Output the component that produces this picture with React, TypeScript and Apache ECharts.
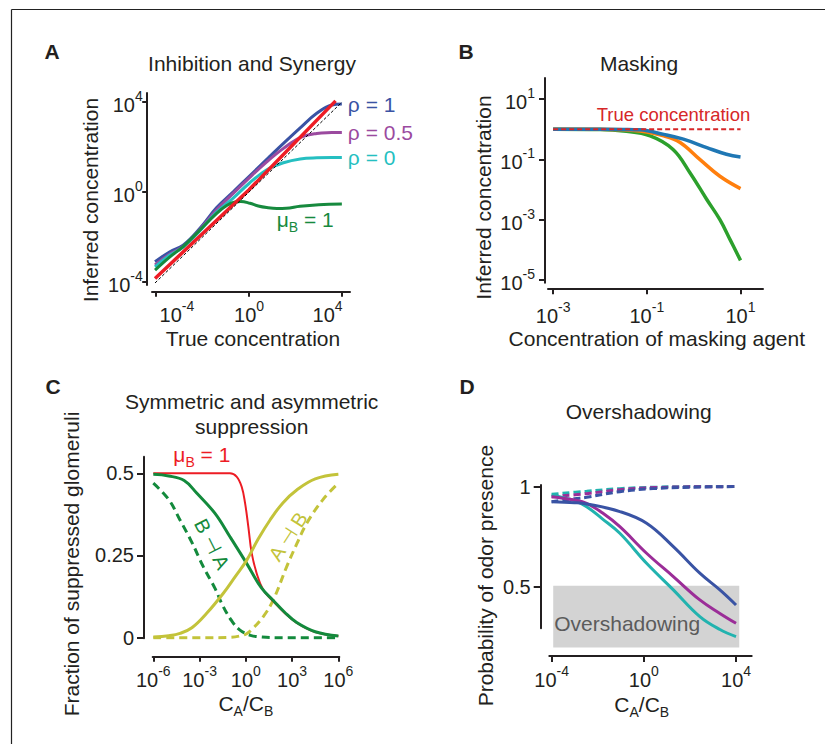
import React, { useEffect, useRef } from 'react';
import * as echarts from 'echarts';

const FONT = '"Liberation Sans", Arial, Helvetica, sans-serif';
const INK = '#231f20';

// ---------------- Panel A: Inhibition and Synergy (log10 values) ----------------
const A_X_TICKS = [-4, 0, 4];
const A_Y_TICKS = [-4, 0, 4];
const A_RHO_1: [number, number][] = [
  [-4.04, -3.1], [-3.4, -2.65], [-2.83, -2.36], [-2.11, -1.61], [-1.4, -0.7], [-0.68, 0.01],
  [0, 0.69], [0.75, 1.44], [1.48, 2.16], [2.2, 2.85], [2.91, 3.5], [3.56, 3.87], [3.99, 3.91],
];
const A_RHO_05: [number, number][] = [
  [-4.04, -3.24], [-3.4, -2.75], [-2.83, -2.42], [-2.11, -1.66], [-1.4, -0.8], [-0.68, -0.06],
  [0, 0.62], [0.75, 1.33], [1.48, 1.94], [2.2, 2.42], [2.91, 2.6], [3.56, 2.64], [3.99, 2.65],
];
const A_RHO_0: [number, number][] = [
  [-4.04, -3.32], [-3.4, -2.8], [-2.83, -2.45], [-2.11, -1.72], [-1.4, -0.9], [-0.68, -0.27],
  [0, 0.38], [0.75, 0.98], [1.48, 1.3], [2.2, 1.47], [2.91, 1.52], [3.56, 1.53], [3.99, 1.53],
];
const A_MU_B1: [number, number][] = [
  [-4.04, -3.47], [-3.4, -2.88], [-2.83, -2.42], [-2.11, -1.69], [-1.39, -0.95], [-0.96, -0.6],
  [-0.6, -0.44], [-0.35, -0.42], [0.04, -0.5], [0.4, -0.62], [0.76, -0.69], [1.2, -0.73],
  [1.6, -0.72], [2.19, -0.63], [3.0, -0.56], [3.99, -0.53],
];
const A_NO_INTERACTION: [number, number][] = [[-4.04, -3.84], [0, 0.1], [3.72, 4.05]];
const A_IDENTITY: [number, number][] = [[-4.04, -4.04], [4, 4]];

// ---------------- Panel B: Masking (log10 values) ----------------
const B_X_TICKS = [-3, -1, 1];
const B_Y_TICKS = [-5, -3, -1, 1];
const B_WEAK: [number, number][] = [
  [-3, 0], [-2, 0], [-1.5, -0.005], [-1.15, -0.02], [-0.64, -0.17], [-0.22, -0.33],
  [0.28, -0.61], [0.7, -0.83], [1, -0.92],
];
const B_MEDIUM: [number, number][] = [
  [-3, 0], [-2, 0], [-1.5, -0.02], [-1.15, -0.06], [-0.64, -0.22], [-0.29, -0.44],
  [0.13, -1.0], [0.56, -1.56], [1, -1.97],
];
const B_STRONG: [number, number][] = [
  [-3, 0], [-2, -0.01], [-1.5, -0.06], [-0.93, -0.22], [-0.44, -0.67], [-0.08, -1.44],
  [0.28, -2.33], [0.56, -3.0], [0.78, -3.67], [1, -4.35],
];
const B_TRUE: [number, number][] = [[-3, 0], [1, 0]];

// ---------------- Panel C: Symmetric and asymmetric suppression ----------------
const C_X_TICKS = [-6, -3, 0, 3, 6];
const C_Y_TICKS = [0, 0.25, 0.5];
const C_MU_B1: [number, number][] = [
  [-6, 0.5], [-2, 0.5], [-1.03, 0.5], [-0.6, 0.49], [-0.27, 0.459], [-0.05, 0.409], [0.16, 0.338],
  [0.38, 0.257], [0.7, 0.196], [1.13, 0.145], [1.78, 0.11], [2.5, 0.076], [3.3, 0.045],
  [4.5, 0.017], [6, 0.005],
];
const C_BA_SOLID: [number, number][] = [
  [-6, 0.497], [-5, 0.492], [-4, 0.478], [-3.19, 0.44], [-2, 0.378], [-1.03, 0.307], [0.05, 0.226],
  [1, 0.152], [1.78, 0.113], [2.5, 0.078], [3.3, 0.046], [4.5, 0.018], [6, 0.005],
];
const C_BA_DASHED: [number, number][] = [
  [-6, 0.47], [-5, 0.42], [-4.27, 0.358], [-3.5, 0.29], [-2.76, 0.216], [-2, 0.15], [-1.46, 0.094],
  [-0.9, 0.05], [-0.38, 0.023], [0.3, 0.007], [1, 0.002], [2, 0], [6, 0],
];
const C_AB_SOLID: [number, number][] = [
  [-6, 0.002], [-5, 0.006], [-4.27, 0.013], [-3.5, 0.03], [-2.54, 0.074], [-1.46, 0.135],
  [-0.7, 0.185], [0.05, 0.235], [0.8, 0.3], [1.57, 0.358], [2.4, 0.41], [3.3, 0.449],
  [4.5, 0.483], [6, 0.497],
];
const C_AB_DASHED: [number, number][] = [
  [-6, 0], [-2, 0], [-1, 0.001], [-0.4, 0.005], [0.05, 0.012], [0.5, 0.03], [1.13, 0.064],
  [1.78, 0.115], [2.65, 0.216], [3.3, 0.285], [3.95, 0.348], [5, 0.42], [6, 0.47],
];

// ---------------- Panel D: Overshadowing ----------------
const D_X_TICKS = [-4, 0, 4];
const D_Y_TICKS = [0.5, 1];
const D_BLUE: [number, number][] = [
  [-4, 0.925], [-3, 0.92], [-2.48, 0.914], [-1.04, 0.876], [0.12, 0.818], [1.28, 0.702],
  [2.43, 0.57], [3.3, 0.487], [4, 0.412],
];
const D_PURPLE: [number, number][] = [
  [-4, 0.95], [-3, 0.933], [-2.48, 0.917], [-1.8, 0.87], [-1.04, 0.801], [0.12, 0.669],
  [1.28, 0.553], [2.43, 0.437], [3.3, 0.37], [4, 0.321],
];
const D_CYAN: [number, number][] = [
  [-4, 0.959], [-3, 0.93], [-2.48, 0.9], [-1.8, 0.84], [-1.04, 0.768], [0.12, 0.619],
  [1.28, 0.487], [2.43, 0.354], [3.3, 0.29], [4, 0.255],
];
const D_BLUE_DASHED: [number, number][] = [
  [-4, 0.925], [-3, 0.94], [-2.48, 0.947], [-1.04, 0.975], [0.4, 0.99], [2, 0.997], [4, 1.0],
];
const D_PURPLE_DASHED: [number, number][] = [
  [-4, 0.95], [-2.48, 0.965], [-1.04, 0.985], [0.5, 0.995], [2, 0.999], [4, 1.0],
];
const D_CYAN_DASHED: [number, number][] = [
  [-4, 0.962], [-2.48, 0.977], [-1.04, 0.99], [0.5, 0.997], [2, 1.0], [4, 1.0],
];
// shaded "Overshadowing" region: [xFrom, yTop, xTo, yBottom]
const D_SHADE: number[][] = [[-3.93, 0.508, 4.14, 0.2]];
const D_SHADE_LABEL = 'Overshadowing';

// ---------------- colours ----------------
const A_BLUE = '#3a53a4';
const A_PURPLE = '#9b4a9f';
const A_CYAN = '#25bfc1';
const A_GREEN = '#178a3e';
const A_RED = '#ee1d25';
const B_BLUE_C = '#1f77b4';
const B_ORANGE_C = '#ff7f0e';
const B_GREEN_C = '#2ca02c';
const B_RED_C = '#d62728';
const C_RED = '#ed1c24';
const C_GREEN = '#138a3c';
const C_OLIVE = '#c3c33a';
const D_BLUE_C = '#3953a4';
const D_PURPLE_C = '#9b2d98';
const D_CYAN_C = '#22b3af';

const powRich = {
  b: { fontSize: 20, lineHeight: 26, verticalAlign: 'bottom', color: INK, fontFamily: FONT },
  s: { fontSize: 14, lineHeight: 16, verticalAlign: 'top', color: INK, fontFamily: FONT },
  bl: { fontSize: 20, lineHeight: 26, verticalAlign: 'bottom', color: INK, fontFamily: FONT, padding: [0, 0, 0, 42] },
  sr: { fontSize: 14, lineHeight: 16, verticalAlign: 'top', color: INK, fontFamily: FONT, padding: [0, 29, 0, 0] },
};
const pow = (v: number) => `{b|10}{s|${Math.round(v)}}`;
const powA = (v: number) => {
  const r = Math.round(v);
  if (r === -4) return `{bl|10}{s|-4}`;
  if (r === 4) return `{b|10}{sr|4}`;
  return pow(v);
};
const plain = (v: number) => String(v);

function axis(
  gridIndex: number, min: number, max: number, ticks: number[], offset: number,
  margin: number, tickLen: number, formatter: (v: number) => string, rich?: any,
) {
  return {
    type: 'value', gridIndex, min, max, offset,
    axisLine: { show: true, onZero: false, lineStyle: { color: INK, width: 2 } },
    axisTick: { show: true, customValues: ticks, length: tickLen, lineStyle: { color: INK, width: 2 } },
    axisLabel: {
      show: true, customValues: ticks, margin, formatter, rich,
      color: INK, fontSize: 20, fontFamily: FONT,
    },
    splitLine: { show: false },
  };
}

function line(idx: number, data: [number, number][], color: string, width: number, dash?: any, extra: any = {}) {
  return {
    type: 'line', xAxisIndex: idx, yAxisIndex: idx, data,
    showSymbol: false, symbol: 'none', smooth: 0.4,
    lineStyle: { color, width, type: dash ?? 'solid', cap: 'butt' },
    itemStyle: { color }, emphasis: { disabled: true }, silent: true,
    ...extra,
  };
}

function txt(x: number, y: number, text: string, o: any = {}) {
  return {
    type: 'text', x, y, rotation: o.rot ?? 0, silent: true,
    style: {
      text, fill: o.color ?? INK, fontSize: o.size ?? 21, fontFamily: FONT,
      fontWeight: o.weight ?? 'normal', align: o.align ?? 'center', verticalAlign: 'middle',
      lineHeight: o.lineHeight, rich: o.rich,
    },
  };
}

function subRich(color: string) {
  return {
    m: { fontSize: 21, lineHeight: 30, verticalAlign: 'middle', fill: color, color, fontFamily: FONT },
    sub: { fontSize: 14, lineHeight: 10, verticalAlign: 'bottom', fill: color, color, fontFamily: FONT },
  };
}

const rad = (d: number) => (d * Math.PI) / 180;

export default function App() {
  const ref = useRef<HTMLDivElement>(null);
  useEffect(() => {
    if (!ref.current) return;
    const chart = echarts.init(ref.current, undefined, { renderer: 'svg' });
    const option: any = {
      animation: false,
      backgroundColor: '#ffffff',
      textStyle: { fontFamily: FONT },
      grid: [
        { left: 152, top: 93, width: 198, height: 192, outerBoundsMode: 'none' },
        { left: 548, top: 78, width: 215, height: 204.7, outerBoundsMode: 'none' },
        { left: 152.7, top: 456.7, width: 186.6, height: 181.6, outerBoundsMode: 'none' },
        { left: 549.3, top: 485, width: 202.4, height: 143.3, outerBoundsMode: 'none' },
      ],
      xAxis: [
        axis(0, -4.17, 4.34, A_X_TICKS, 6.7, 7, 5, powA, powRich),
        axis(1, -3.11, 1.48, B_X_TICKS, 5.6, 12, 6, pow, powRich),
        axis(2, -6.04, 6.06, C_X_TICKS, 18.4, 7, 5, pow, powRich),
        axis(3, -4.1, 4.68, D_X_TICKS, 27.7, 7.7, 6, pow, powRich),
      ],
      yAxis: [
        axis(0, -4.13, 4.4, A_Y_TICKS, 5.3, 4, 4.5, pow, powRich),
        axis(1, -5.09, 1.7, B_Y_TICKS, 3, 10, 6, pow, powRich),
        axis(2, -0.002, 0.5505, C_Y_TICKS, 8.7, 10, 7, plain),
        axis(3, 0.296, 1.008, D_Y_TICKS, 8.6, 10, 7, plain),
      ],
      series: [
        // A
        line(0, A_RHO_1, A_BLUE, 3, undefined, {
          endLabel: { show: true, formatter: 'ρ = 1', color: A_BLUE, fontSize: 21, fontFamily: FONT, distance: 6 },
        }),
        line(0, A_RHO_05, A_PURPLE, 3, undefined, {
          endLabel: { show: true, formatter: 'ρ = 0.5', color: A_PURPLE, fontSize: 21, fontFamily: FONT, distance: 6 },
        }),
        line(0, A_RHO_0, A_CYAN, 3, undefined, {
          endLabel: { show: true, formatter: 'ρ = 0', color: A_CYAN, fontSize: 21, fontFamily: FONT, distance: 6 },
        }),
        line(0, A_MU_B1, A_GREEN, 3),
        line(0, A_NO_INTERACTION, A_RED, 3.5, undefined, { smooth: false }),
        line(0, A_IDENTITY, '#000000', 1, [3, 2], { smooth: false }),
        // B
        line(1, B_STRONG, B_GREEN_C, 3.5),
        line(1, B_MEDIUM, B_ORANGE_C, 3.5),
        line(1, B_WEAK, B_BLUE_C, 3.5),
        line(1, B_TRUE, B_RED_C, 2, [5, 3], { smooth: false }),
        // C
        line(2, C_AB_DASHED, C_OLIVE, 3, [8, 5]),
        line(2, C_BA_DASHED, C_GREEN, 3, [8, 5]),
        line(2, C_MU_B1, C_RED, 2),
        line(2, C_BA_SOLID, C_GREEN, 3),
        line(2, C_AB_SOLID, C_OLIVE, 3),
        // D
        {
          type: 'custom', xAxisIndex: 3, yAxisIndex: 3, clip: false, silent: true, z: 1,
          data: D_SHADE,
          encode: { x: [0, 2], y: [1, 3] },
          renderItem: (_p: any, api: any) => {
            const a = api.coord([api.value(0), api.value(1)]);
            const b = api.coord([api.value(2), api.value(3)]);
            return {
              type: 'group',
              children: [
                {
                  type: 'rect',
                  shape: { x: a[0], y: a[1], width: b[0] - a[0], height: b[1] - a[1] },
                  style: { fill: '#d3d3d3' },
                },
                {
                  type: 'text',
                  x: a[0] + 1, y: a[1] + (b[1] - a[1]) * 0.61,
                  style: {
                    text: D_SHADE_LABEL, fill: '#5b5b5b', fontSize: 21, fontFamily: FONT,
                    align: 'left', verticalAlign: 'middle',
                  },
                },
              ],
            };
          },
        },
        line(3, D_CYAN_DASHED, D_CYAN_C, 3, [7, 4], { clip: false }),
        line(3, D_PURPLE_DASHED, D_PURPLE_C, 3, [7, 4], { clip: false }),
        line(3, D_BLUE_DASHED, D_BLUE_C, 3, [7, 4], { clip: false }),
        line(3, D_CYAN, D_CYAN_C, 3, undefined, { clip: false }),
        line(3, D_PURPLE, D_PURPLE_C, 3, undefined, { clip: false }),
        line(3, D_BLUE, D_BLUE_C, 3, undefined, { clip: false }),
      ],
      graphic: [
        { type: 'line', silent: true, shape: { x1: 11.5, y1: 9.5, x2: 825, y2: 9.5 }, style: { stroke: '#222', lineWidth: 1.2 } },
        { type: 'line', silent: true, shape: { x1: 11.5, y1: 9.5, x2: 11.5, y2: 744 }, style: { stroke: '#222', lineWidth: 1.2 } },
        txt(52, 51, 'A', { weight: 'bold' }),
        txt(466, 51, 'B', { weight: 'bold' }),
        txt(53, 386, 'C', { weight: 'bold' }),
        txt(467, 386, 'D', { weight: 'bold' }),
        txt(252, 63, 'Inhibition and Synergy'),
        txt(639, 63, 'Masking'),
        txt(251.7, 414, 'Symmetric and asymmetric\nsuppression', { lineHeight: 25 }),
        txt(638.7, 411.7, 'Overshadowing'),
        txt(90, 200, 'Inferred concentration', { rot: Math.PI / 2 }),
        txt(253, 338.3, 'True concentration'),
        txt(483, 197.5, 'Inferred concentration', { rot: Math.PI / 2 }),
        txt(656.8, 338.3, 'Concentration of masking agent'),
        txt(71.7, 564, 'Fraction of suppressed glomeruli', { rot: Math.PI / 2 }),
        txt(245.8, 703, '{m|C}{sub|A}{m|/C}{sub|B}', { rich: subRich(INK) }),
        txt(485, 575.6, 'Probability of odor presence', { rot: Math.PI / 2 }),
        txt(641.7, 704, '{m|C}{sub|A}{m|/C}{sub|B}', { rich: subRich(INK) }),
        txt(276.7, 219, '{m|μ}{sub|B}{m| = 1}', { rich: subRich(A_GREEN), align: 'left', color: A_GREEN }),
        txt(596.7, 114, 'True concentration', { size: 18.5, color: B_RED_C, align: 'left' }),
        txt(173.3, 454, '{m|μ}{sub|B}{m| = 1}', { rich: subRich(C_RED), align: 'left', color: C_RED }),
        txt(212, 544, 'B ⊣ A', { size: 20, color: C_GREEN, rot: rad(-63) }),
        txt(288, 536.5, 'A ⊣ B', { size: 20, color: C_OLIVE, rot: rad(57) }),
      ],
    };
    chart.setOption(option);
    return () => chart.dispose();
  }, []);
  return (
    <div
      ref={ref}
      style={{ position: 'fixed', left: 0, top: 0, width: 825, height: 744, background: '#fff' }}
    />
  );
}
